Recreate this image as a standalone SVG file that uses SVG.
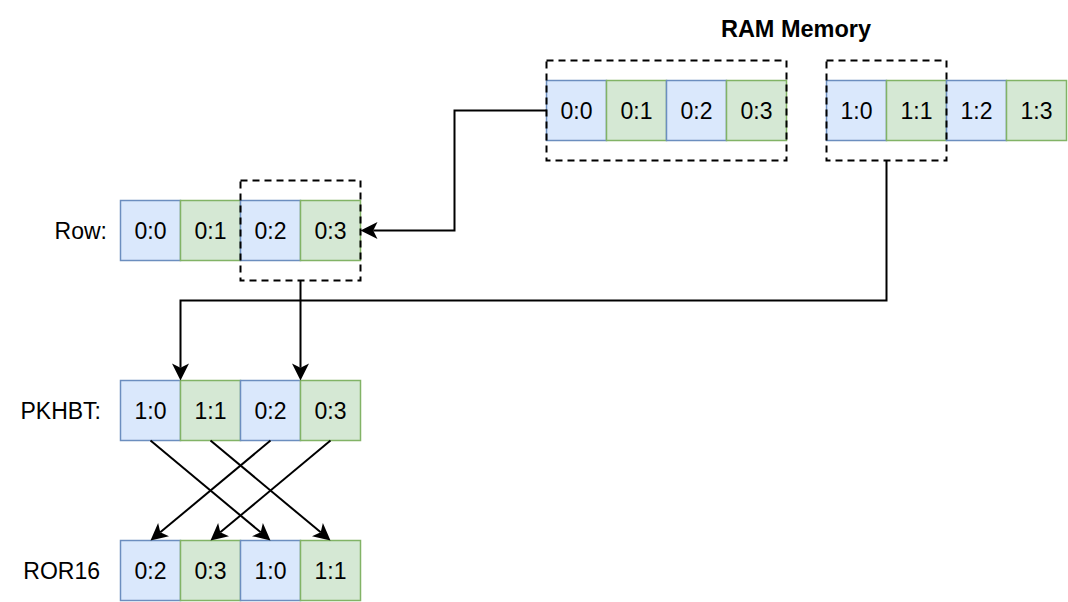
<svg xmlns="http://www.w3.org/2000/svg" width="1068" height="602" viewBox="0 0 1068 602">
<style>
.b{fill:#dae8fc;stroke:#6c8ebf;stroke-width:1.5}
.g{fill:#d5e8d4;stroke:#82b366;stroke-width:1.5}
.d{fill:none;stroke:#000;stroke-width:2;stroke-dasharray:7 5}
.t{font-family:"Liberation Sans",Arial,sans-serif;font-size:23px;fill:#000;text-anchor:middle}
.l{font-family:"Liberation Sans",Arial,sans-serif;font-size:23px;fill:#000;text-anchor:end}
.h{font-family:"Liberation Sans",Arial,sans-serif;font-size:23.5px;font-weight:bold;fill:#000;text-anchor:middle}
.c{fill:none;stroke:#000;stroke-width:2}
</style>
<defs>
<marker id="arr" markerUnits="userSpaceOnUse" markerWidth="20" markerHeight="20" refX="0" refY="0" orient="auto" overflow="visible">
<path d="M12.75,0 L-4.25,-8.5 L0,0 L-4.25,8.5 Z" fill="#000" stroke="none"/>
</marker>
</defs>
<rect width="1068" height="602" fill="#fff"/>
<text class="h" x="796" y="37">RAM Memory</text>
<g id="ram0">
<rect class="b" x="546.5" y="80.5" width="60" height="60"/><text class="t" x="576.5" y="118.5">0:0</text>
<rect class="g" x="606.5" y="80.5" width="60" height="60"/><text class="t" x="636.5" y="118.5">0:1</text>
<rect class="b" x="666.5" y="80.5" width="60" height="60"/><text class="t" x="696.5" y="118.5">0:2</text>
<rect class="g" x="726.5" y="80.5" width="60" height="60"/><text class="t" x="756.5" y="118.5">0:3</text>
<rect class="d" x="546.5" y="60.5" width="240" height="100"/>
</g>
<g id="ram1">
<rect class="b" x="826.5" y="80.5" width="60" height="60"/><text class="t" x="856.5" y="118.5">1:0</text>
<rect class="g" x="886.5" y="80.5" width="60" height="60"/><text class="t" x="916.5" y="118.5">1:1</text>
<rect class="b" x="946.5" y="80.5" width="60" height="60"/><text class="t" x="976.5" y="118.5">1:2</text>
<rect class="g" x="1006.5" y="80.5" width="60" height="60"/><text class="t" x="1036.5" y="118.5">1:3</text>
<rect class="d" x="826.5" y="60.5" width="120" height="100"/>
</g>
<g id="row">
<text class="l" x="107" y="238.5">Row:</text>
<rect class="b" x="120.5" y="200.5" width="60" height="60"/><text class="t" x="150.5" y="238.5">0:0</text>
<rect class="g" x="180.5" y="200.5" width="60" height="60"/><text class="t" x="210.5" y="238.5">0:1</text>
<rect class="b" x="240.5" y="200.5" width="60" height="60"/><text class="t" x="270.5" y="238.5">0:2</text>
<rect class="g" x="300.5" y="200.5" width="60" height="60"/><text class="t" x="330.5" y="238.5">0:3</text>
<rect class="d" x="240.5" y="180.5" width="120" height="100"/>
</g>
<g id="pkhbt">
<text class="l" x="101" y="418.5">PKHBT:</text>
<rect class="b" x="120.5" y="380.5" width="60" height="60"/><text class="t" x="150.5" y="418.5">1:0</text>
<rect class="g" x="180.5" y="380.5" width="60" height="60"/><text class="t" x="210.5" y="418.5">1:1</text>
<rect class="b" x="240.5" y="380.5" width="60" height="60"/><text class="t" x="270.5" y="418.5">0:2</text>
<rect class="g" x="300.5" y="380.5" width="60" height="60"/><text class="t" x="330.5" y="418.5">0:3</text>
</g>
<g id="ror16">
<text class="l" x="100" y="578.5">ROR16</text>
<rect class="b" x="120.5" y="540.5" width="60" height="60"/><text class="t" x="150.5" y="578.5">0:2</text>
<rect class="g" x="180.5" y="540.5" width="60" height="60"/><text class="t" x="210.5" y="578.5">0:3</text>
<rect class="b" x="240.5" y="540.5" width="60" height="60"/><text class="t" x="270.5" y="578.5">1:0</text>
<rect class="g" x="300.5" y="540.5" width="60" height="60"/><text class="t" x="330.5" y="578.5">1:1</text>
</g>
<g id="connectors">
<path class="c" d="M546.5,110.5 H454.5 V230.5 H373.25" marker-end="url(#arr)"/>
<path class="c" d="M886.5,160.5 V300.5 H180.5 V367.75" marker-end="url(#arr)"/>
<path class="c" d="M300.5,280.5 V367.75" marker-end="url(#arr)"/>
<path class="c" d="M150.5,440.5 L260.71,532.34" marker-end="url(#arr)"/>
<path class="c" d="M210.5,440.5 L320.71,532.34" marker-end="url(#arr)"/>
<path class="c" d="M270.5,440.5 L160.29,532.34" marker-end="url(#arr)"/>
<path class="c" d="M330.5,440.5 L220.29,532.34" marker-end="url(#arr)"/>
</g>
</svg>
